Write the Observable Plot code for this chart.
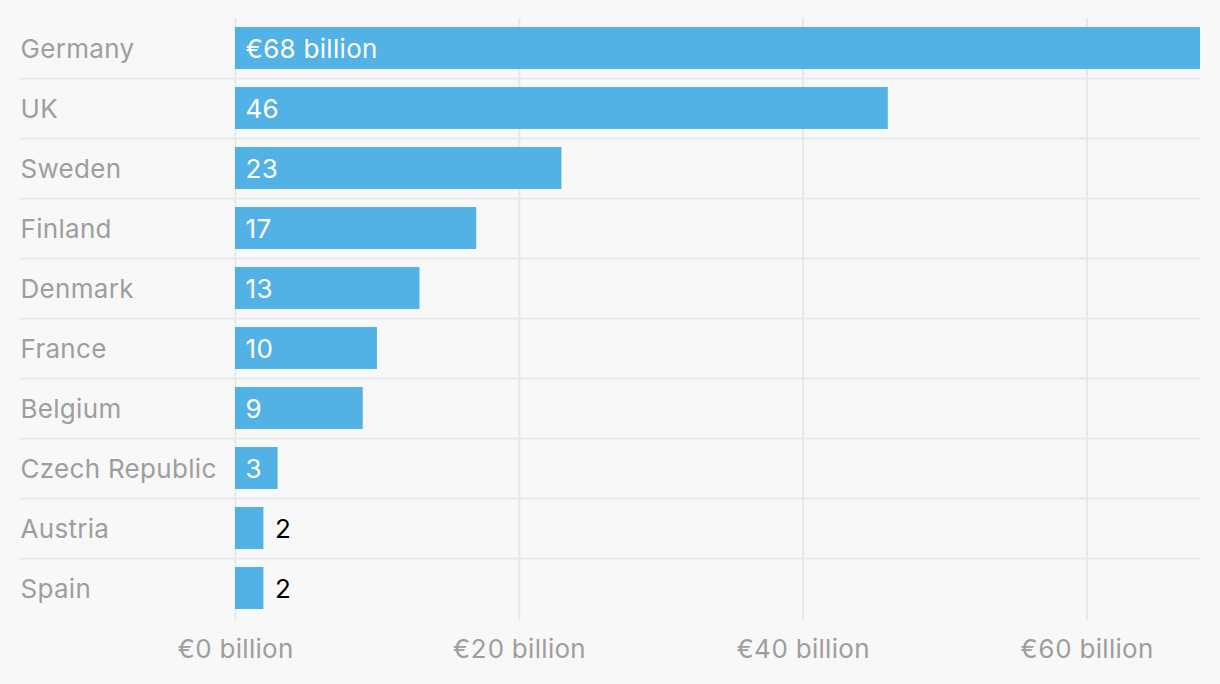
<!DOCTYPE html>
<html><head><meta charset="utf-8">
<script src="https://cdn.jsdelivr.net/npm/d3@7"></script>
<script src="https://cdn.jsdelivr.net/npm/@observablehq/plot@0.6"></script>
<style>
html,body{margin:0;padding:0;background:#f8f8f8;}
#chart svg{display:block;}
#chart svg text{letter-spacing:0.3px;}
</style></head><body><div id="chart"></div>
<script>
const countries = ["Germany","UK","Sweden","Finland","Denmark","France","Belgium","Czech Republic","Austria","Spain"];
const values = [68,46,23,17,13,10,9,3,2,2];
const xTicks = [0,20,40,60];

const data = countries.map((c,i)=>({
  country:c, value:values[i],
  label: i===0 ? `€${values[i]} billion` : String(values[i]),
  inside: values[i] >= 3
}));

const chart = Plot.plot({
  width:1220, height:684,
  marginLeft:20, marginRight:20, marginTop:18, marginBottom:64,
  style:{background:"#f8f8f8", fontFamily:"Inter, 'Noto Sans', sans-serif", fontSize:"26px", color:"#9e9e9e"},
  x:{domain:[0,68], range:[235,1200], ticks:xTicks, tickFormat:d=>`€${d} billion`, label:null, tickSize:0, tickPadding:19},
  y:{domain:countries, range:[18,618], paddingInner:0.3, paddingOuter:0.15, axis:null},
  marks:[
    Plot.ruleX(xTicks, {stroke:"#e8e8e8", strokeWidth:2}),
    Plot.ruleY(countries.slice(1), {y:d=>d, stroke:"#e8e8e8", strokeWidth:2, dy:-30}),
    Plot.barX(data, {x:"value", y:"country", fill:"#52b2e5"}),
    Plot.text(data, {y:"country", text:"country", frameAnchor:"left", textAnchor:"start", fill:"#9e9e9e", fontSize:26, dy:1}),
    Plot.text(data.filter(d=>d.inside), {x:0, y:"country", text:"label", textAnchor:"start", dx:10, dy:1, fill:"white", fontSize:26}),
    Plot.text(data.filter(d=>!d.inside), {x:"value", y:"country", text:"label", textAnchor:"start", dx:11, dy:1, fill:"black", fontSize:26})
  ]
});
document.getElementById("chart").appendChild(chart);
</script></body></html>
